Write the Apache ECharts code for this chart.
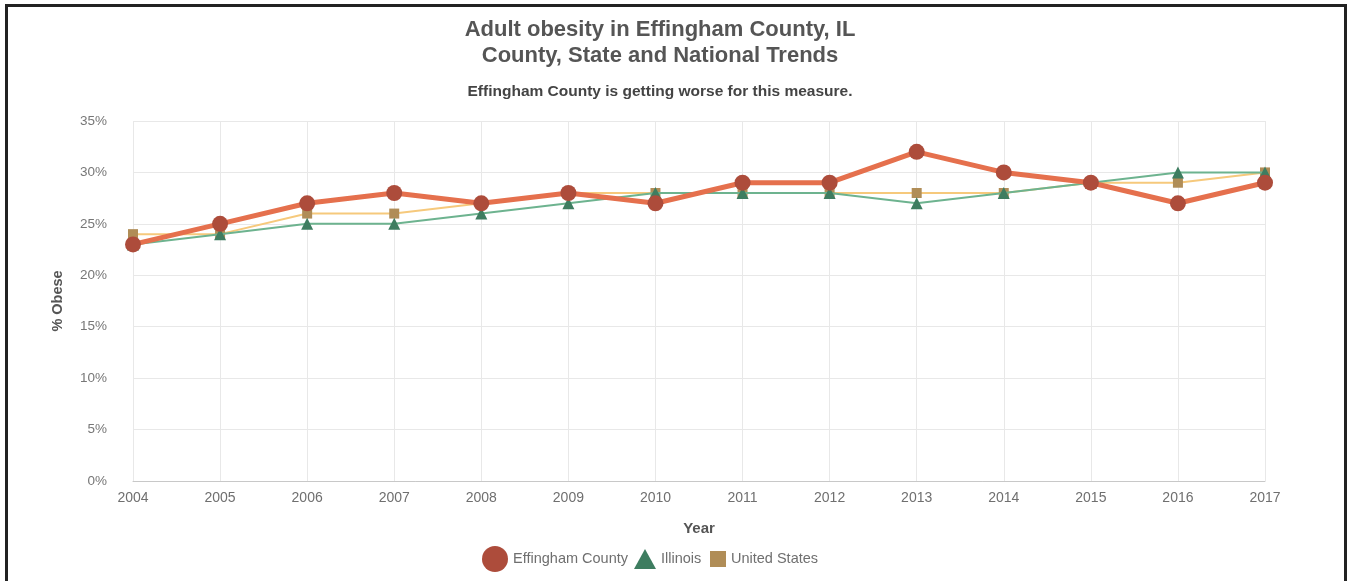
<!DOCTYPE html>
<html>
<head>
<meta charset="utf-8">
<script src="https://cdn.jsdelivr.net/npm/echarts@6/dist/echarts.min.js"></script>
<style>
  html, body { margin: 0; padding: 0; background: #ffffff; }
  #chart { position: absolute; left: 0; top: 0; width: 1350px; height: 581px; }
  #frame {
    position: absolute; left: 5px; top: 4px; width: 1336px; height: 600px;
    border: 3px solid #222222; border-bottom: none; pointer-events: none;
  }
</style>
</head>
<body>
<div id="chart"></div>
<div id="frame"></div>
<script>
// Adult obesity rates (%), 2004-2017
const years = ['2004','2005','2006','2007','2008','2009','2010','2011','2012','2013','2014','2015','2016','2017'];
const effingham = [23, 25, 27, 28, 27, 28, 27, 29, 29, 32, 30, 29, 27, 29];
const illinois  = [23, 24, 25, 25, 26, 27, 28, 28, 28, 27, 28, 29, 30, 30];
const unitedStates = [24, 24, 26, 26, 27, 28, 28, 28, 28, 28, 28, 29, 29, 30];

const FONT = '"Liberation Sans", Arial, sans-serif';
const legendText = { color: '#6f6f6f', fontSize: 14.5, fontFamily: FONT };

const chart = echarts.init(document.getElementById('chart'), null, { renderer: 'canvas' });

chart.setOption({
  animation: false,
  textStyle: { fontFamily: FONT },
  title: [
    {
      text: 'Adult obesity in Effingham County, IL\nCounty, State and National Trends',
      left: 655, top: 12, textAlign: 'center',
      textStyle: { fontFamily: FONT, fontSize: 22, fontWeight: 'bold', color: '#555555', lineHeight: 26 }
    },
    {
      text: 'Effingham County is getting worse for this measure.',
      left: 655, top: 79, textAlign: 'center',
      textStyle: { fontFamily: FONT, fontSize: 15.5, fontWeight: 'bold', color: '#444444' }
    }
  ],
  legend: [
    {
      data: [{ name: 'Effingham County', icon: 'circle' }],
      left: 482, top: 546, itemWidth: 26, itemHeight: 26, itemGap: 0,
      textStyle: legendText, padding: 0
    },
    {
      data: [{ name: 'Illinois', icon: 'triangle' }],
      left: 634, top: 549, itemWidth: 22, itemHeight: 20, itemGap: 0,
      textStyle: legendText, padding: 0
    },
    {
      data: [{ name: 'United States', icon: 'rect' }],
      left: 710, top: 551, itemWidth: 16, itemHeight: 16, itemGap: 0,
      textStyle: legendText, padding: 0
    }
  ],
  grid: { left: 133, right: 85, top: 121, bottom: 100, containLabel: false },
  xAxis: {
    type: 'category',
    data: years,
    boundaryGap: false,
    name: 'Year',
    nameLocation: 'middle',
    nameGap: 40,
    nameTextStyle: { fontFamily: FONT, fontSize: 15, fontWeight: 'bold', color: '#555555' },
    axisLine: { lineStyle: { color: '#c8c8c8', width: 1 } },
    axisTick: { show: false },
    axisLabel: { color: '#6f6f6f', fontSize: 14, margin: 10, fontFamily: FONT },
    splitLine: { show: true, lineStyle: { color: '#e8e8e8', width: 1 } }
  },
  yAxis: {
    type: 'value',
    min: 0, max: 35, interval: 5,
    name: '% Obese',
    nameLocation: 'middle',
    nameGap: 68,
    nameRotate: 90,
    nameTextStyle: { fontFamily: FONT, fontSize: 14.5, fontWeight: 'bold', color: '#555555' },
    axisLine: { show: false },
    axisTick: { show: false },
    axisLabel: { color: '#777777', fontSize: 13.5, margin: 26, fontFamily: FONT, formatter: '{value}%' },
    splitLine: { lineStyle: { color: '#e8e8e8', width: 1 } }
  },
  series: [
    {
      name: 'United States',
      type: 'line',
      data: unitedStates,
      symbol: 'rect',
      symbolSize: 10,
      z: 2,
      lineStyle: { color: '#f6c97c', width: 2 },
      itemStyle: { color: '#b08d57' }
    },
    {
      name: 'Illinois',
      type: 'line',
      data: illinois,
      symbol: 'triangle',
      symbolSize: 12,
      z: 3,
      lineStyle: { color: '#6db38f', width: 2 },
      itemStyle: { color: '#3e7d60' }
    },
    {
      name: 'Effingham County',
      type: 'line',
      data: effingham,
      symbol: 'circle',
      symbolSize: 16,
      z: 4,
      lineStyle: { color: '#e5704d', width: 5 },
      itemStyle: { color: '#ad4c3b' }
    }
  ]
});
</script>
</body>
</html>
